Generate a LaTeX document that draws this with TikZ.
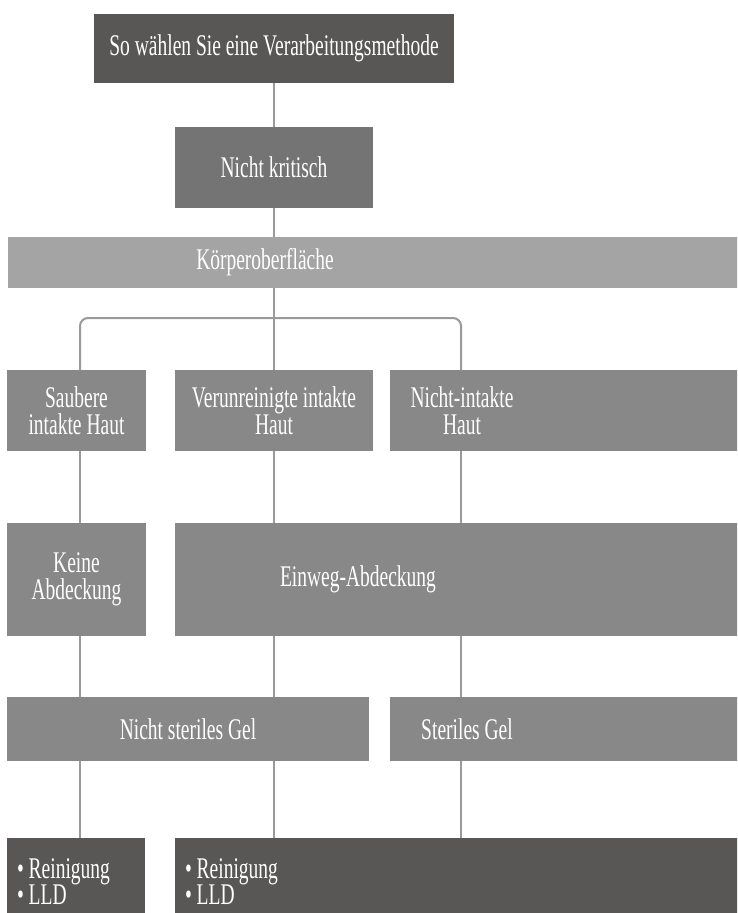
\documentclass[tikz,border=0pt]{standalone}
\usepackage{fontspec}
\setmainfont{Liberation Serif}[FakeStretch=0.65]
\definecolor{cdark}{HTML}{595755}
\definecolor{cmid}{HTML}{747474}
\definecolor{cbox}{HTML}{888888}
\definecolor{clight}{HTML}{A4A4A4}
\definecolor{cline}{HTML}{9A9A9A}
\begin{document}
\begin{tikzpicture}[x=1pt,y=-1pt,
  blk/.style={draw=none, inner sep=0pt, outer sep=0pt, text=white, align=center,
    font=\fontsize{30}{27}\selectfont},
  txt/.style={inner sep=0pt, outer sep=0pt, text=white, align=center,
    font=\fontsize{30}{27}\selectfont},
  ltxt/.style={inner sep=0pt, outer sep=0pt, text=white, anchor=base west,
    font=\fontsize{30}{27}\selectfont},
  conn/.style={draw=cline, line width=2pt}]
\useasboundingbox (0,0) rectangle (737,913);
\clip (0,0) rectangle (737,913);
\coordinate (xl) at (80,0);
\coordinate (xm) at (274,0);
\coordinate (xr) at (461,0);
\coordinate (yb) at (0,318);
% boxes
\node[blk, fill=cdark, minimum width=360pt, minimum height=69pt] (top) at (274,48.5) {So wählen Sie eine Verarbeitungsmethode};
\node[blk, fill=cmid, minimum width=198pt, minimum height=81pt] (nk) at (274,167.5) {Nicht kritisch};
\node[blk, fill=clight, minimum width=737pt, minimum height=51pt] (koerper) at (376.5,262.5) {};
\node[txt] (koerpert) at (265,262.5) {Körperoberfläche};
\node[blk, fill=cbox, minimum width=139pt, minimum height=81pt] (a) at (76.5,410.5) {Saubere\\intakte Haut};
\node[blk, fill=cbox, minimum width=198pt, minimum height=81pt] (b) at (274,410.5) {Verunreinigte intakte\\Haut};
\node[blk, fill=cbox, minimum width=355pt, minimum height=81pt] (c) at (567.5,410.5) {};
\node[txt] (ct) at (462,410.5) {Nicht-intakte\\Haut};
\node[blk, fill=cbox, minimum width=139pt, minimum height=113pt] (keine) at (76.5,579.5) {Keine\\Abdeckung};
\node[blk, fill=cbox, minimum width=570pt, minimum height=113pt] (einweg) at (460,579.5) {};
\node[txt] (einwegt) at (358,579.5) {Einweg-Abdeckung};
\node[blk, fill=cbox, minimum width=362pt, minimum height=64pt] (ns) at (188,729) {Nicht steriles Gel};
\node[blk, fill=cbox, minimum width=355pt, minimum height=64pt] (st) at (567.5,729) {};
\node[txt] (stt) at (467,729) {Steriles Gel};
\node[blk, fill=cdark, minimum width=138pt, minimum height=87pt] (l) at (76,881.5) {};
\node[blk, fill=cdark, minimum width=570pt, minimum height=87pt] (r) at (460,881.5) {};
\node[ltxt] (l1) at (17,878) {• Reinigung};
\node[ltxt] (l2) at (17,904) {• LLD};
\node[ltxt] (r1) at (185,878) {• Reinigung};
\node[ltxt] (r2) at (185,904) {• LLD};
% connectors
\draw[conn] (top.south -| xm) -- (nk.north -| xm);
\draw[conn] (nk.south -| xm) -- (koerper.north -| xm);
\draw[conn] (koerper.south -| xm) -- (b.north -| xm);
\draw[conn, rounded corners=8pt] (xl |- a.north) -- (xl |- yb) -- (xr |- yb) -- (xr |- c.north);
\draw[conn] (a.south -| xl) -- (keine.north -| xl);
\draw[conn] (b.south -| xm) -- (einweg.north -| xm);
\draw[conn] (c.south -| xr) -- (einweg.north -| xr);
\draw[conn] (keine.south -| xl) -- (ns.north -| xl);
\draw[conn] (einweg.south -| xm) -- (ns.north -| xm);
\draw[conn] (einweg.south -| xr) -- (st.north -| xr);
\draw[conn] (ns.south -| xl) -- (l.north -| xl);
\draw[conn] (ns.south -| xm) -- (r.north -| xm);
\draw[conn] (st.south -| xr) -- (r.north -| xr);
\end{tikzpicture}
\end{document}
